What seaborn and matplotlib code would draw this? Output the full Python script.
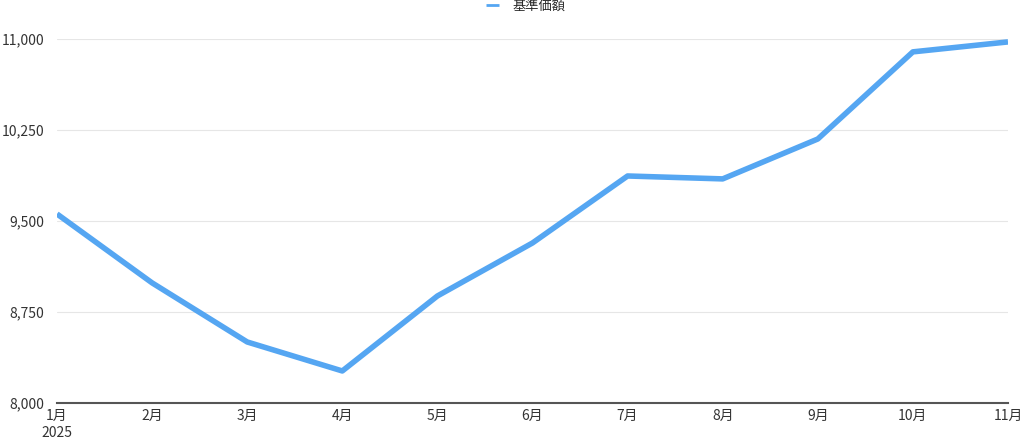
import matplotlib
matplotlib.use("Agg")
import matplotlib.pyplot as plt
import seaborn as sns
import pandas as pd

# 基準価額 monthly values
months = ["1月", "2月", "3月", "4月", "5月", "6月", "7月", "8月", "9月", "10月", "11月"]
nav = [9558, 8990, 8503, 8264, 8882, 9319, 9871, 9847, 10176, 10894, 10976]
yticks = [8000, 8750, 9500, 10250, 11000]

df = pd.DataFrame({"month": months, "基準価額": nav, "pos": range(len(months))})

sns.set_theme(style="white")
plt.rcParams["font.family"] = ["Noto Sans CJK JP", "DejaVu Sans"]

fig = plt.figure(figsize=(10.24, 4.38), dpi=100)
ax = fig.add_axes([57 / 1024, 1 - 403 / 438, (1008 - 57) / 1024, (403 - 39) / 438])

sns.lineplot(data=df, x="pos", y="基準価額", color="#55a6f2", linewidth=4,
             label="基準価額", ax=ax, solid_capstyle="butt")

ax.set_xlim(0, len(months) - 1)
ax.set_ylim(8000, 11000)
ax.set_yticks(yticks)
ax.set_yticklabels([f"{v:,}" for v in yticks])
ax.set_xticks(range(len(months)))
labels = [m for m in months]
labels[0] = "1月\n2025"
ax.set_xticklabels(labels, linespacing=1.3)
ax.set_xlabel("")
ax.set_ylabel("")

ax.grid(axis="y", color="#e6e6e6", linewidth=0.8)
ax.set_axisbelow(True)
for s in ["top", "right", "left"]:
    ax.spines[s].set_visible(False)
ax.spines["bottom"].set_color("#555555")
ax.spines["bottom"].set_linewidth(1.5)
ax.tick_params(axis="both", length=0, labelsize=10, colors="#333333")
ax.tick_params(axis="y", pad=9)
ax.tick_params(axis="x", pad=4)

ax.legend().remove()
handles, lbls = ax.get_legend_handles_labels()
leg = fig.legend(handles, lbls, loc="upper center", bbox_to_anchor=(0.513, 1.0),
                 frameon=False, fontsize=9.5, handlelength=1.0, handletextpad=1.0,
                 borderaxespad=0, borderpad=0)
for line in leg.get_lines():
    line.set_linewidth(2)

fig.savefig("out.png", dpi=100)
